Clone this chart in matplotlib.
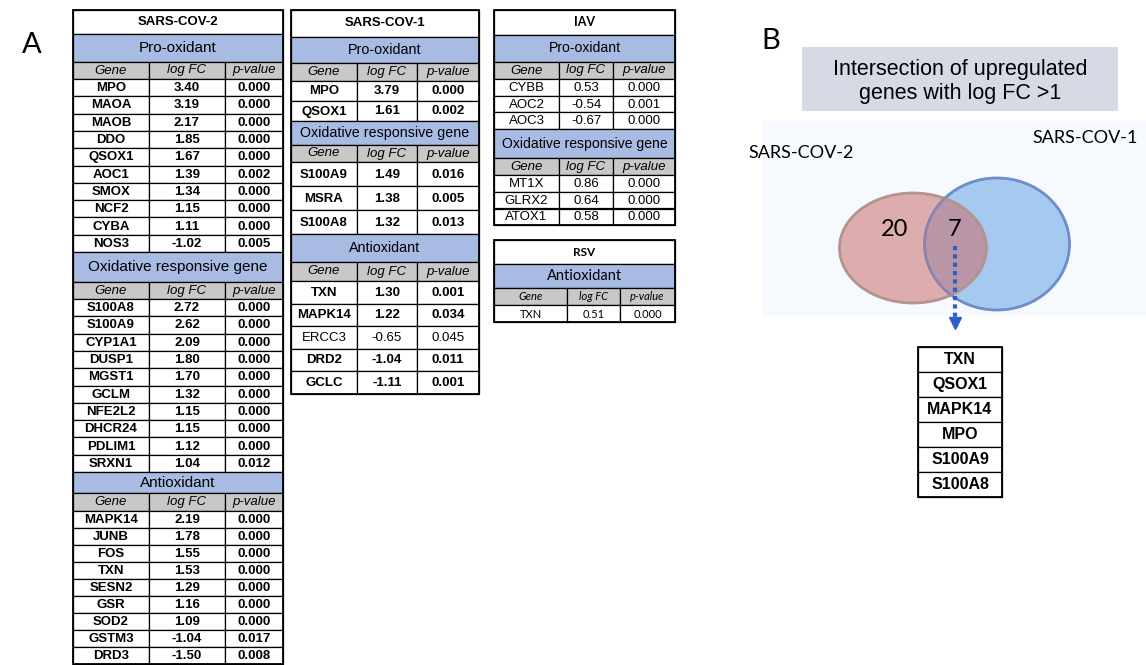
import matplotlib
matplotlib.use('Agg')
import matplotlib.pyplot as plt
from matplotlib.patches import Rectangle, Ellipse

# ---- datos de las tablas ----
sars2_pro_genes = ['MPO', 'MAOA', 'MAOB', 'DDO', 'QSOX1', 'AOC1', 'SMOX', 'NCF2', 'CYBA', 'NOS3']
sars2_pro_fc = [3.40, 3.19, 2.17, 1.85, 1.67, 1.39, 1.34, 1.15, 1.11, -1.02]
sars2_pro_p = [0.000, 0.000, 0.000, 0.000, 0.000, 0.002, 0.000, 0.000, 0.000, 0.005]

sars2_oxr_genes = ['S100A8', 'S100A9', 'CYP1A1', 'DUSP1', 'MGST1', 'GCLM', 'NFE2L2', 'DHCR24', 'PDLIM1', 'SRXN1']
sars2_oxr_fc = [2.72, 2.62, 2.09, 1.80, 1.70, 1.32, 1.15, 1.15, 1.12, 1.04]
sars2_oxr_p = [0.000, 0.000, 0.000, 0.000, 0.000, 0.000, 0.000, 0.000, 0.000, 0.012]

sars2_anti_genes = ['MAPK14', 'JUNB', 'FOS', 'TXN', 'SESN2', 'GSR', 'SOD2', 'GSTM3', 'DRD3']
sars2_anti_fc = [2.19, 1.78, 1.55, 1.53, 1.29, 1.16, 1.09, -1.04, -1.50]
sars2_anti_p = [0.000, 0.000, 0.000, 0.000, 0.000, 0.000, 0.000, 0.017, 0.008]

sars1_pro_genes = ['MPO', 'QSOX1']
sars1_pro_fc = [3.79, 1.61]
sars1_pro_p = [0.000, 0.002]

sars1_oxr_genes = ['S100A9', 'MSRA', 'S100A8']
sars1_oxr_fc = [1.49, 1.38, 1.32]
sars1_oxr_p = [0.016, 0.005, 0.013]

sars1_anti_genes = ['TXN', 'MAPK14', 'ERCC3', 'DRD2', 'GCLC']
sars1_anti_fc = [1.30, 1.22, -0.65, -1.04, -1.11]
sars1_anti_p = [0.001, 0.034, 0.045, 0.011, 0.001]
sars1_anti_bold = [True, True, False, True, True]

iav_pro_genes = ['CYBB', 'AOC2', 'AOC3']
iav_pro_fc = [0.53, -0.54, -0.67]
iav_pro_p = [0.000, 0.001, 0.000]

iav_oxr_genes = ['MT1X', 'GLRX2', 'ATOX1']
iav_oxr_fc = [0.86, 0.64, 0.58]
iav_oxr_p = [0.000, 0.000, 0.000]

rsv_anti_genes = ['TXN']
rsv_anti_fc = [0.51]
rsv_anti_p = [0.000]

# ---- datos del diagrama de Venn ----
venn_names = ['SARS-COV-2', 'SARS-COV-1']
venn_only_left = 20
venn_shared = 7
shared_genes = ['TXN', 'QSOX1', 'MAPK14', 'MPO', 'S100A9', 'S100A8']

col_names = ['Gene', 'log FC', 'p-value']
BLUE = '#a7bbe3'
GRAY = '#c8c8c8'
ARIAL = 'Liberation Sans'
CALIBRI = 'Lato'

fig = plt.figure(figsize=(11.46, 6.65), dpi=100)
ax = fig.add_axes([0, 0, 1, 1])
ax.set_xlim(0, 1146)
ax.set_ylim(665, 0)
ax.axis('off')


def celda(x0, y0, x1, y1, color='white', lw=0.9):
    ax.add_patch(Rectangle((x0, y0), x1 - x0, y1 - y0, facecolor=color,
                           edgecolor='black', linewidth=lw))


def dibujar_tabla(cols, top, titulo, alto_titulo, secciones, est):
    y = top
    celda(cols[0], y, cols[-1], y + alto_titulo)
    ax.text((cols[0] + cols[-1]) / 2, y + alto_titulo / 2, titulo, ha='center', va='center',
            family=est['tfont'], fontsize=est['tsize'], fontweight='bold')
    y += alto_titulo
    for nombre, h_azul, h_gris, h_fila, genes, fc, pv, negrita in secciones:
        celda(cols[0], y, cols[-1], y + h_azul, BLUE)
        ax.text((cols[0] + cols[-1]) / 2, y + h_azul / 2, nombre, ha='center', va='center',
                family=est['hfont'], fontsize=est['hsize'])
        y += h_azul
        for j, c in enumerate(col_names):
            celda(cols[j], y, cols[j + 1], y + h_gris, GRAY)
            ax.text((cols[j] + cols[j + 1]) / 2, y + h_gris / 2, c, ha='center', va='center',
                    family=est['bfont'], fontsize=est['ssize'], style='italic')
        y += h_gris
        for i, g in enumerate(genes):
            vals = [g, f'{fc[i]:.2f}', f'{pv[i]:.3f}']
            peso = 'bold' if negrita[i] else 'normal'
            for j, v in enumerate(vals):
                celda(cols[j], y, cols[j + 1], y + h_fila)
                ax.text((cols[j] + cols[j + 1]) / 2, y + h_fila / 2 + 0.5, v, ha='center', va='center',
                        family=est['bfont'], fontsize=est['bsize'], fontweight=peso)
            y += h_fila
    ax.add_patch(Rectangle((cols[0], top), cols[-1] - cols[0], y - top, fill=False,
                           edgecolor='black', linewidth=1.3))


est_sars2 = dict(tfont=ARIAL, tsize=9.5, hfont=ARIAL, hsize=11, bfont=ARIAL, bsize=9.5, ssize=9.5)
est_sars1 = dict(tfont=ARIAL, tsize=9.5, hfont=ARIAL, hsize=10.3, bfont=ARIAL, bsize=9.5, ssize=9.5)
est_iav = dict(tfont=CALIBRI, tsize=9, hfont=ARIAL, hsize=10.1, bfont=ARIAL, bsize=9.5, ssize=9.5)
est_rsv = dict(tfont=CALIBRI, tsize=8.5, hfont=CALIBRI, hsize=10.5, bfont=CALIBRI, bsize=8, ssize=8)

dibujar_tabla([73, 149, 225, 283], 10, 'SARS-COV-2', 24, [
    ('Pro-oxidant', 28, 17, 17.3, sars2_pro_genes, sars2_pro_fc, sars2_pro_p, [True] * 10),
    ('Oxidative responsive gene', 30, 17, 17.3, sars2_oxr_genes, sars2_oxr_fc, sars2_oxr_p, [True] * 10),
    ('Antioxidant', 21, 18, 17.0, sars2_anti_genes, sars2_anti_fc, sars2_anti_p, [True] * 9),
], est_sars2)

dibujar_tabla([291, 357, 417, 479], 10, 'SARS-COV-1', 27, [
    ('Pro-oxidant', 26, 18, 20, sars1_pro_genes, sars1_pro_fc, sars1_pro_p, [True] * 2),
    ('Oxidative responsive gene', 24, 17, 24, sars1_oxr_genes, sars1_oxr_fc, sars1_oxr_p, [True] * 3),
    ('Antioxidant', 28, 19, 22.5, sars1_anti_genes, sars1_anti_fc, sars1_anti_p, sars1_anti_bold),
], est_sars1)

dibujar_tabla([494, 559, 613, 675], 10, 'IAV', 25, [
    ('Pro-oxidant', 27, 17, 16.7, iav_pro_genes, iav_pro_fc, iav_pro_p, [False] * 3),
    ('Oxidative responsive gene', 29, 17, 16.7, iav_oxr_genes, iav_oxr_fc, iav_oxr_p, [False] * 3),
], est_iav)

dibujar_tabla([494, 567, 620, 675], 240, 'RSV', 24, [
    ('Antioxidant', 24, 17, 17, rsv_anti_genes, rsv_anti_fc, rsv_anti_p, [False]),
], est_rsv)

# letras de panel
ax.text(32, 45, 'A', ha='center', va='center', family=CALIBRI, fontsize=21)
ax.text(771, 41, 'B', ha='center', va='center', family=CALIBRI, fontsize=21)

# ---- panel B ----
ax.add_patch(Rectangle((802, 47), 316, 64, facecolor='#d6dae4', edgecolor='none'))
ax.text(960, 69, 'Intersection of upregulated', ha='center', va='center', family=ARIAL, fontsize=15.5)
ax.text(960, 94, 'genes with log FC >1', ha='center', va='center', family=ARIAL, fontsize=15.5)

ax.add_patch(Rectangle((762, 120), 384, 196, facecolor='#f6f9fd', edgecolor='none'))

ax.add_patch(Ellipse((997, 244), 145, 132, facecolor='#a5c9ef', edgecolor='#6d8ecb', linewidth=2))
ax.add_patch(Ellipse((913, 248), 147, 110, facecolor='#c96d6a', alpha=0.55, edgecolor='none'))
ax.add_patch(Ellipse((913, 248), 147, 110, facecolor='none', edgecolor='#b3928f', linewidth=2))
ax.add_patch(Ellipse((997, 244), 145, 132, facecolor='none', edgecolor='#6d8ecb', linewidth=1.5, alpha=0.6))

ax.text(801, 153, venn_names[0], ha='center', va='center', family=CALIBRI, fontsize=13)
ax.text(1085, 138, venn_names[1], ha='center', va='center', family=CALIBRI, fontsize=13)
ax.text(895, 229, str(venn_only_left), ha='center', va='center', family=CALIBRI, fontsize=17)
ax.text(955, 229, str(venn_shared), ha='center', va='center', family=CALIBRI, fontsize=17)

# flecha punteada
ax.plot([955, 955], [246, 317], color='#2e5fc8', linestyle=(0, (1, 1)), linewidth=3)
ax.plot([955], [323], marker='v', color='#2e5fc8', markersize=9, linestyle='none')

# lista de genes compartidos
for i, g in enumerate(shared_genes):
    y0 = 347 + i * 25
    celda(918, y0, 1002, y0 + 25)
    ax.text(960, y0 + 12.8, g, ha='center', va='center', family=ARIAL, fontsize=11.5, fontweight='bold')
ax.add_patch(Rectangle((918, 347), 84, 25 * len(shared_genes), fill=False, edgecolor='black', linewidth=1.3))

fig.savefig('out.png', dpi=100)
